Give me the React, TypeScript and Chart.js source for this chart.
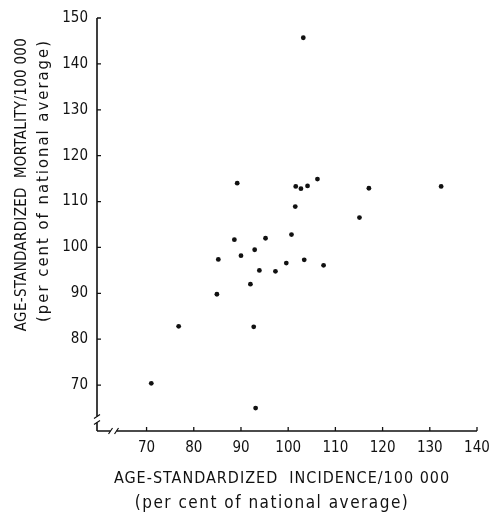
import React, { useEffect, useRef } from "react";
import { Chart, registerables } from "chart.js";

Chart.register(...registerables);

const INCIDENCE = [103.2, 89.2, 101.6, 102.7, 104.1, 106.2, 117.1, 132.4, 101.5, 115.1, 88.6, 95.2, 100.7, 85.2, 90.0, 92.9, 99.6, 103.4, 107.5, 93.9, 97.3, 92.0, 84.9, 76.8, 92.7, 71.0, 93.1];
const MORTALITY = [145.7, 114.0, 113.3, 112.8, 113.4, 114.9, 112.9, 113.3, 108.9, 106.5, 101.7, 102.0, 102.8, 97.4, 98.2, 99.5, 96.6, 97.3, 96.1, 95.0, 94.8, 92.0, 89.8, 82.8, 82.7, 70.4, 65.0];
const X_TICKS = [70, 80, 90, 100, 110, 120, 130, 140];
const Y_TICKS = [70, 80, 90, 100, 110, 120, 130, 140, 150];
const X_TITLE = ["AGE-STANDARDIZED  INCIDENCE/100 000", "(per cent of national average)"];
const Y_TITLE = ["AGE-STANDARDIZED  MORTALITY/100 000", "(per cent of national average)"];
const X_BREAK = 63;
const Y_BREAK = 62.5;

const FONT = "'DejaVu Sans Condensed', 'DejaVu Sans', sans-serif";

const axesPlugin = {
  id: "brokenAxes",
  afterDraw(chart: any) {
    const { ctx, chartArea, scales } = chart;
    const x = scales.x;
    const y = scales.y;
    const left = chartArea.left;
    const bottom = chartArea.bottom;
    ctx.save();
    ctx.strokeStyle = "#111";
    ctx.lineWidth = 1.6;
    const yb = y.getPixelForValue(Y_BREAK);
    ctx.beginPath();
    ctx.moveTo(left, chartArea.top);
    ctx.lineTo(left, yb - 3);
    ctx.moveTo(left, yb + 3);
    ctx.lineTo(left, bottom);
    ctx.stroke();
    ctx.lineWidth = 1.2;
    ctx.beginPath();
    ctx.moveTo(left - 3, yb - 1);
    ctx.lineTo(left + 3, yb - 5);
    ctx.moveTo(left - 3, yb + 5);
    ctx.lineTo(left + 3, yb + 1);
    ctx.stroke();
    const xb = x.getPixelForValue(X_BREAK);
    ctx.lineWidth = 1.6;
    ctx.beginPath();
    ctx.moveTo(left, bottom);
    ctx.lineTo(xb - 3, bottom);
    ctx.moveTo(xb + 3, bottom);
    ctx.lineTo(chartArea.right, bottom);
    ctx.stroke();
    ctx.lineWidth = 1.2;
    ctx.beginPath();
    ctx.moveTo(xb - 5, bottom + 3);
    ctx.lineTo(xb - 1, bottom - 3);
    ctx.moveTo(xb + 1, bottom + 3);
    ctx.lineTo(xb + 5, bottom - 3);
    ctx.stroke();
    ctx.lineWidth = 1.3;
    ctx.beginPath();
    for (const v of X_TICKS) {
      const px = x.getPixelForValue(v);
      ctx.moveTo(px, bottom);
      ctx.lineTo(px, bottom - 4);
    }
    for (const v of Y_TICKS) {
      const py = y.getPixelForValue(v);
      ctx.moveTo(left, py);
      ctx.lineTo(left + 4, py);
    }
    ctx.stroke();

    // axis titles
    ctx.fillStyle = "#111";
    ctx.textAlign = "center";
    ctx.textBaseline = "middle";
    const cx = (chartArea.left + chartArea.right) / 2;
    ctx.font = `16px ${FONT}`;
    (ctx as any).letterSpacing = "1px";
    ctx.fillText(X_TITLE[0], cx - 5, bottom + 48);
    ctx.font = `17px ${FONT}`;
    (ctx as any).letterSpacing = "1.5px";
    ctx.fillText(X_TITLE[1], cx - 15, bottom + 73);
    const cy = (chartArea.top + chartArea.bottom) / 2;
    ctx.translate(left, cy);
    ctx.rotate(-Math.PI / 2);
    ctx.font = `15px ${FONT}`;
    (ctx as any).letterSpacing = "0.3px";
    ctx.fillText(Y_TITLE[0], 40, 22 - left);
    ctx.font = `16.5px ${FONT}`;
    (ctx as any).letterSpacing = "2px";
    ctx.fillText(Y_TITLE[1], 44, 44 - left);
    ctx.restore();
  },
};

export default function App() {
  const ref = useRef<HTMLCanvasElement>(null);
  useEffect(() => {
    document.body.style.margin = "0";
    const data = INCIDENCE.map((v, i) => ({ x: v, y: MORTALITY[i] }));
    const chart = new Chart(ref.current!, {
      type: "scatter",
      data: {
        datasets: [
          {
            data,
            backgroundColor: "#111",
            borderColor: "#111",
            pointRadius: 2.4,
            pointBorderWidth: 0,
          },
        ],
      },
      options: {
        animation: false,
        responsive: false,
        devicePixelRatio: 1,
        layout: { padding: { top: 15, right: 15, left: 0, bottom: 0 } },
        plugins: { legend: { display: false }, tooltip: { enabled: false } },
        scales: {
          x: {
            type: "linear",
            min: 59.5,
            max: 140,
            afterBuildTicks: (s: any) => {
              s.ticks = X_TICKS.map((v) => ({ value: v }));
            },
            afterFit: (s: any) => {
              s.height = 84;
              s.paddingRight = 0;
              s.paddingLeft = 0;
            },
            grid: { display: false, drawTicks: false },
            border: { display: false },
            ticks: { color: "#111", font: { family: FONT, size: 15 }, padding: 8, maxRotation: 0 },
          },
          y: {
            type: "linear",
            min: 60,
            max: 150,
            afterBuildTicks: (s: any) => {
              s.ticks = Y_TICKS.map((v) => ({ value: v }));
            },
            afterFit: (s: any) => {
              s.width = 97;
            },
            grid: { display: false, drawTicks: false },
            border: { display: false },
            ticks: { color: "#111", font: { family: FONT, size: 15 }, padding: 9 },
          },
        },
      },
      plugins: [axesPlugin],
    });
    return () => chart.destroy();
  }, []);
  return (
    <div style={{ position: "absolute", left: 0, top: 0, width: 492, height: 515, background: "#fff" }}>
      <canvas ref={ref} width={492} height={515} />
    </div>
  );
}
